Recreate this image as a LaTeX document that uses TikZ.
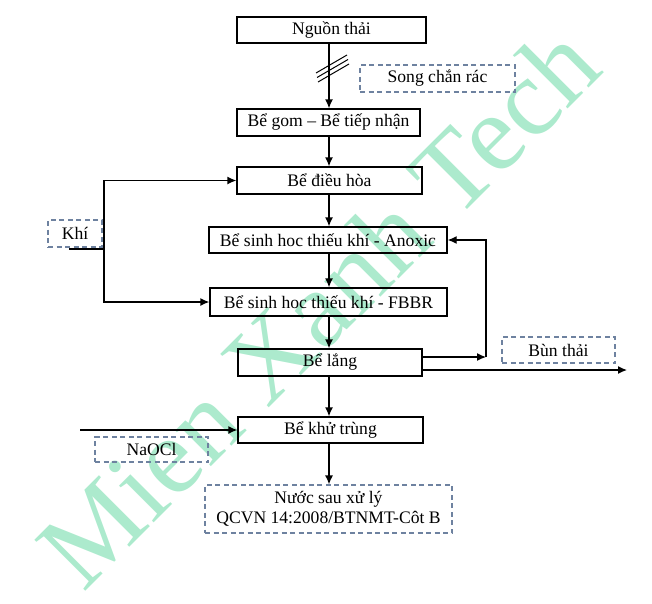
\documentclass[tikz,border=0pt]{standalone}
\usepackage{fontspec}
\setmainfont{Liberation Serif}
\usetikzlibrary{arrows.meta,calc}
\definecolor{dashc}{RGB}{110,130,160}
\definecolor{wm}{RGB}{172,234,205}
\begin{document}
\begin{tikzpicture}[x=1pt,y=-1pt,
  txt/.style={font=\fontsize{17.6}{20}\selectfont},
  proc/.style={txt,draw,line width=1.3pt,inner sep=0pt},
  note/.style={txt,draw=dashc,dash pattern=on 5pt off 3.5pt,line width=1.2pt,inner sep=0pt},
  arr/.style={line width=1.3pt,-{Latex[length=9pt,width=8pt]}},
  ln/.style={line width=1.3pt},
  hatch/.style={line width=1pt}]
\useasboundingbox (0,0) rectangle (652,603);
% watermark
\node[rotate=45,text=wm,font=\fontsize{110}{110}\selectfont] (wmark) at (318,306) {Mien Xanh Tech};
% main process boxes
\node[proc,minimum width=189pt,minimum height=26pt] (n1) at (331.5,30) {Nguồn thải};
\node[proc,minimum width=183pt,minimum height=27pt] (n2) at (328.5,122.5) {Bể gom – Bể tiếp nhận};
\node[proc,minimum width=185pt,minimum height=27pt] (n3) at (329.5,180.5) {Bể điều hòa};
\node[proc,minimum width=238pt,minimum height=26pt] (n4) at (328,240) {Bể sinh hoc thiếu khí - Anoxic};
\node[proc,minimum width=237pt,minimum height=28pt] (n5) at (328.5,302) {Bể sinh hoc thiếu khí - FBBR};
\node[proc,minimum width=184pt,minimum height=27pt] (n6) at (330,362.5) {Bể lắng};
\node[proc,minimum width=185pt,minimum height=26pt] (n7) at (330.5,430) {Bể khử trùng};
\node[note,minimum width=247pt,minimum height=48pt,align=center] (n8) at (328.5,509) {Nước sau xử lý\\QCVN 14:2008/BTNMT-Côt B};
% side notes
\node[note,minimum width=155pt,minimum height=27pt] (song) at (437.5,78.5) {Song chắn rác};
\node[note,minimum width=54pt,minimum height=27pt] (khi) at (75,233.5) {Khí};
\node[note,minimum width=113pt,minimum height=26pt] (bun) at (558.5,350) {Bùn thải};
\node[note,minimum width=113pt,minimum height=25pt] (naocl) at (151.5,449.5) {NaOCl};
% spine
\coordinate (sp) at (329,0);
\draw[arr] (n1.south -| sp) -- (n2.north -| sp);
\draw[arr] (n2.south -| sp) -- (n3.north -| sp);
\draw[arr] (n3.south -| sp) -- (n4.north -| sp);
\draw[arr] (n4.south -| sp) -- (n5.north -| sp);
\draw[arr] (n5.south -| sp) -- (n6.north -| sp);
\draw[arr] (n6.south -| sp) -- (n7.north -| sp);
\draw[arr] (n7.south -| sp) -- (n8.north -| sp);
% screen hatch
\draw[hatch] (316,73) -- (347,55);
\draw[hatch] (317,77.5) -- (348,59.5);
\draw[hatch] (318,82) -- (349,64);
% air
\coordinate (kA) at (69,249);
\coordinate (kB) at (104,249);
\draw[ln] (kA) -- (kB);
\draw[arr] (kB) |- (n3.west);
\draw[arr] (kB) |- (n5.west);
% recirculation and sludge
\coordinate (rc) at (486,357);
\draw[arr] (n6.east |- rc) -- (rc);
\draw[arr] (rc) |- (n4.east);
\coordinate (out) at (627,370);
\draw[arr] (n6.east |- out) -- (out);
% disinfectant
\coordinate (na) at (80,430);
\draw[arr] (na) -- (n7.west);
\end{tikzpicture}
\end{document}
